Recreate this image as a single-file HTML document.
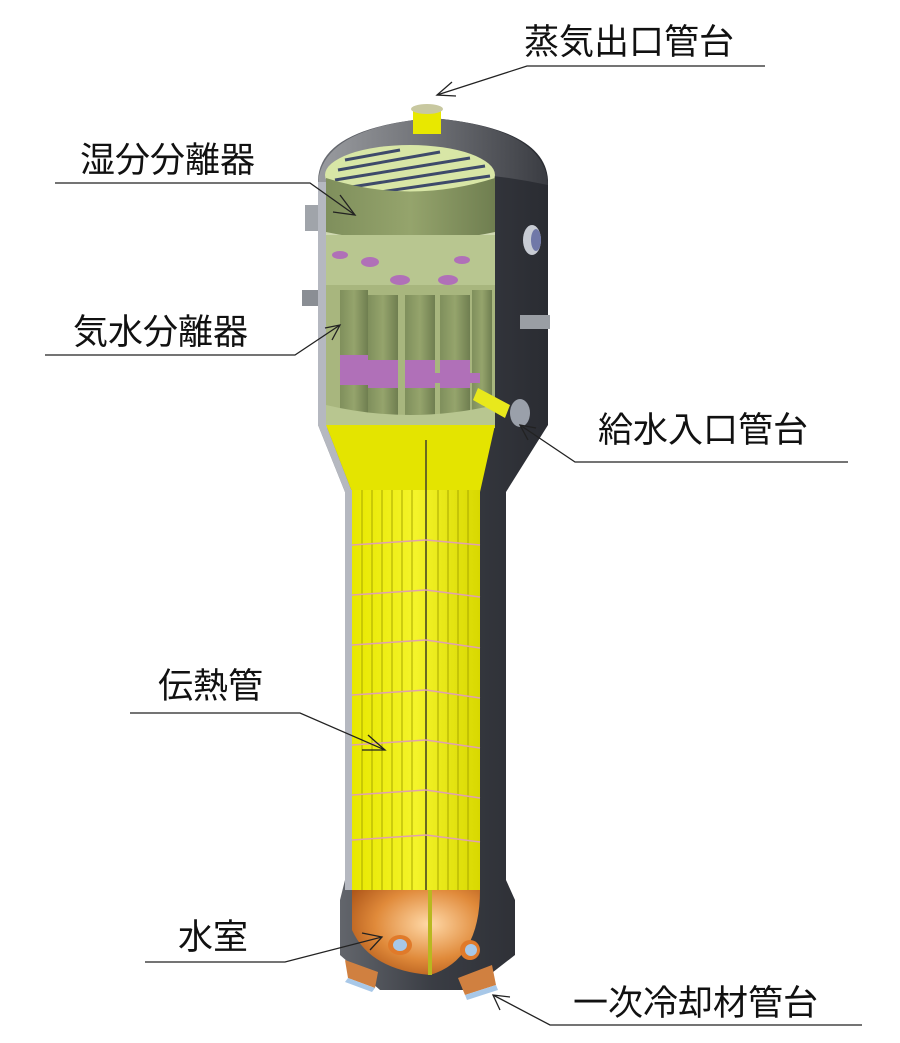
<!DOCTYPE html>
<html><head><meta charset="utf-8"><style>
html,body{margin:0;padding:0;background:#fff;}
svg{display:block}
text{font-family:"Liberation Sans","Noto Sans CJK JP",sans-serif;font-size:35px;fill:#111}
</style></head><body>
<svg width="900" height="1043" viewBox="0 0 900 1043" xmlns="http://www.w3.org/2000/svg">
<defs>
<linearGradient id="shell" x1="0" x2="1"><stop offset="0" stop-color="#6c6f75"/><stop offset="0.5" stop-color="#3a3d44"/><stop offset="1" stop-color="#2a2c32"/></linearGradient>
<linearGradient id="dome" x1="0" x2="1"><stop offset="0" stop-color="#9a9ca0"/><stop offset="0.5" stop-color="#6d6f74"/><stop offset="1" stop-color="#3a3c42"/></linearGradient>
<linearGradient id="yel" x1="0" x2="1"><stop offset="0" stop-color="#e8e800"/><stop offset="0.5" stop-color="#f4f42a"/><stop offset="1" stop-color="#d8d800"/></linearGradient>
<radialGradient id="cu" cx="0.6" cy="0.4" r="0.7"><stop offset="0" stop-color="#ffd9a8"/><stop offset="0.6" stop-color="#e08a3a"/><stop offset="1" stop-color="#b0581a"/></radialGradient>
<linearGradient id="grn" x1="0" x2="1"><stop offset="0" stop-color="#7f8f5c"/><stop offset="0.5" stop-color="#95a46c"/><stop offset="1" stop-color="#6f7e50"/></linearGradient>
</defs>

<path d="M318 180 Q320 128 432 118 Q545 128 548 180 L548 425 L506 492 L506 880 L515 900 L515 955 L470 990 L380 990 L340 955 L340 900 L345 880 L345 492 L318 425 Z" fill="url(#shell)"/>
<path d="M318 185 Q320 128 432 118 Q545 128 548 185 Q432 160 318 185 Z" fill="url(#dome)"/>
<path d="M326 180 Q410 150 495 180 L495 425 L326 425 Z" fill="#cfd8b0"/>
<ellipse cx="410" cy="175" rx="85" ry="30" fill="#d8e6a6"/>
<g stroke="#3e4a6a" stroke-width="3">
<line x1="345" y1="160" x2="400" y2="150"/><line x1="338" y1="170" x2="440" y2="152"/><line x1="335" y1="180" x2="470" y2="158"/><line x1="345" y1="188" x2="485" y2="166"/><line x1="380" y1="192" x2="490" y2="176"/>
</g>
<path d="M326 178 Q410 205 495 178 L495 232 Q410 250 326 232 Z" fill="url(#grn)"/>
<rect x="326" y="235" width="169" height="50" fill="#b8c690"/>
<g fill="#b070b8">
<ellipse cx="370" cy="262" rx="9" ry="5"/><ellipse cx="400" cy="280" rx="10" ry="5"/><ellipse cx="448" cy="280" rx="10" ry="5"/><ellipse cx="462" cy="260" rx="8" ry="4"/><ellipse cx="340" cy="255" rx="8" ry="4"/>
</g>
<rect x="326" y="285" width="169" height="130" fill="#a8b67e"/>
<g fill="url(#grn)">
<rect x="340" y="290" width="28" height="125"/><rect x="368" y="295" width="30" height="120"/><rect x="405" y="295" width="30" height="120"/><rect x="440" y="295" width="30" height="120"/><rect x="472" y="290" width="20" height="125"/>
</g>
<g fill="#b070b8">
<rect x="340" y="355" width="28" height="30"/><rect x="368" y="360" width="30" height="28"/><rect x="405" y="360" width="30" height="28"/><rect x="440" y="360" width="30" height="28"/><rect x="430" y="373" width="50" height="10"/>
</g>
<path d="M326 405 Q410 425 495 405 L495 428 L326 428 Z" fill="#b8c690"/>
<path d="M478 388 L510 405 L505 418 L473 400 Z" fill="#e8e81c"/>
<ellipse cx="520" cy="413" rx="10" ry="14" fill="#9aa0aa"/>
<ellipse cx="532" cy="240" rx="9" ry="15" fill="#c8ccd4"/><ellipse cx="536" cy="240" rx="5" ry="11" fill="#7078a8"/>
<rect x="305" y="205" width="14" height="26" fill="#a0a4aa"/>
<rect x="302" y="290" width="16" height="16" fill="#8a8e94"/>
<rect x="520" y="315" width="30" height="14" fill="#9a9ea4"/>
<rect x="413" y="108" width="28" height="26" fill="#e8e800"/>
<ellipse cx="427" cy="109" rx="16" ry="5" fill="#c8c8a0"/>
<rect x="318" y="182" width="8" height="243" fill="#b5b8c0"/>
<path d="M326 425 L495 425 L480 492 L352 492 Z" fill="#e4e400"/>
<path d="M318 425 L326 425 L352 492 L345 492 Z" fill="#b5b8c0"/>
<rect x="352" y="490" width="128" height="400" fill="url(#yel)"/>
<g stroke="#a8a800" stroke-width="1">
<line x1="362" y1="490" x2="362" y2="890"/><line x1="372" y1="490" x2="372" y2="890"/><line x1="382" y1="490" x2="382" y2="890"/><line x1="392" y1="490" x2="392" y2="890"/><line x1="402" y1="490" x2="402" y2="890"/><line x1="412" y1="490" x2="412" y2="890"/><line x1="438" y1="490" x2="438" y2="890"/><line x1="448" y1="490" x2="448" y2="890"/><line x1="458" y1="490" x2="458" y2="890"/><line x1="468" y1="490" x2="468" y2="890"/>
</g>
<line x1="426" y1="440" x2="426" y2="890" stroke="#6a6a20" stroke-width="2"/>
<g stroke="#e0a0b0" stroke-width="1.5">
<line x1="352" y1="545" x2="426" y2="540"/><line x1="426" y1="540" x2="480" y2="545"/>
<line x1="352" y1="595" x2="426" y2="590"/><line x1="426" y1="590" x2="480" y2="597"/>
<line x1="352" y1="645" x2="426" y2="640"/><line x1="426" y1="640" x2="480" y2="648"/>
<line x1="352" y1="695" x2="426" y2="690"/><line x1="426" y1="690" x2="480" y2="698"/>
<line x1="352" y1="745" x2="426" y2="740"/><line x1="426" y1="740" x2="480" y2="748"/>
<line x1="352" y1="795" x2="426" y2="790"/><line x1="426" y1="790" x2="480" y2="798"/>
<line x1="352" y1="840" x2="426" y2="835"/><line x1="426" y1="835" x2="480" y2="842"/>
</g>
<rect x="345" y="490" width="7" height="400" fill="#b5b8c0"/>
<path d="M352 890 L480 890 Q480 960 430 975 Q370 970 352 930 Z" fill="url(#cu)"/>
<line x1="430" y1="890" x2="430" y2="975" stroke="#b8b820" stroke-width="4"/>
<ellipse cx="400" cy="945" rx="12" ry="10" fill="#e07a2a"/><ellipse cx="400" cy="945" rx="7" ry="6" fill="#a8c8e8"/>
<ellipse cx="470" cy="950" rx="10" ry="10" fill="#e07a2a"/><ellipse cx="471" cy="950" rx="6" ry="6" fill="#a8c8e8"/>
<path d="M345 960 L378 972 L375 988 L348 978 Z" fill="#d08040"/>
<path d="M458 978 L492 965 L496 985 L465 995 Z" fill="#d08040"/>
<path d="M348 978 L375 988 L372 992 L345 982 Z" fill="#a8c8e8"/>
<path d="M465 995 L496 985 L498 990 L467 1000 Z" fill="#a8c8e8"/>

<g stroke="#222" stroke-width="1.3" fill="none">
<polyline points="765,66 527,66 437,95"/><polyline points="452,82 437,95 456,96"/>
<polyline points="55,183 310,183 355,215"/><polyline points="340,195 355,215 333,212"/>
<polyline points="45,355 295,355 340,325"/><polyline points="325,328 340,325 332,340"/>
<polyline points="848,462 575,462 520,425"/><polyline points="536,428 520,425 528,440"/>
<polyline points="130,713 300,713 385,750"/><polyline points="368,735 385,750 362,750"/>
<polyline points="145,962 285,962 382,937"/><polyline points="362,933 382,937 370,950"/>
<polyline points="862,1025 550,1025 493,995"/><polyline points="510,997 493,995 500,1010"/>
</g>
<text x="524" y="54">蒸気出口管台</text>
<text x="80" y="172">湿分分離器</text>
<text x="73" y="344">気水分離器</text>
<text x="598" y="442">給水入口管台</text>
<text x="158" y="698">伝熱管</text>
<text x="178" y="949">水室</text>
<text x="573" y="1015">一次冷却材管台</text>
</svg>
</body></html>
